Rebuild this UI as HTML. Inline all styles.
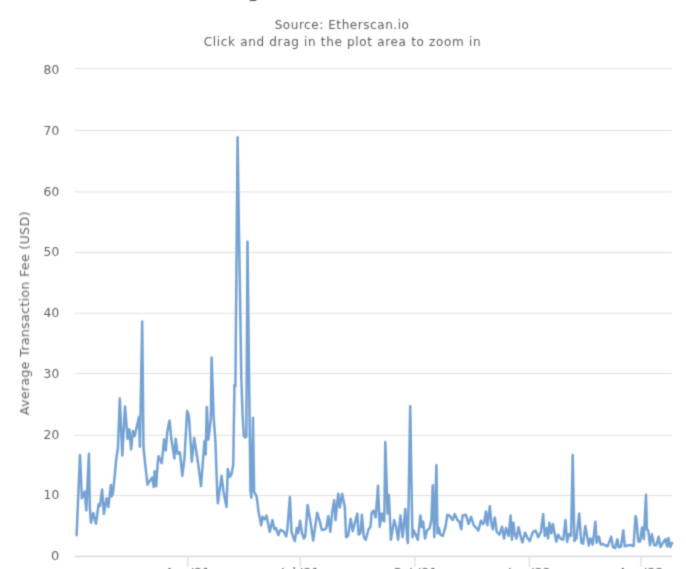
<!DOCTYPE html>
<html><head><meta charset="utf-8"><style>
html,body{margin:0;padding:0;background:#fff;overflow:hidden;}
svg{display:block;}
text{font-family:"DejaVu Sans","Liberation Sans",sans-serif;}
</style></head><body>
<svg width="686" height="569" viewBox="0 0 686 569">
<defs><filter id="bl" x="-5%" y="-5%" width="110%" height="110%"><feConvolveMatrix order="3" kernelMatrix="0.03 0.11 0.03 0.11 0.44 0.11 0.03 0.11 0.03" divisor="1" edgeMode="none" preserveAlpha="false"/></filter></defs>
<rect width="686" height="569" fill="#fff"/>
<g filter="url(#bl)">
<text x="343" y="-3" text-anchor="middle" font-size="20" fill="#333">Average Transaction Fee Chart</text>
<text x="341.8" y="29" text-anchor="middle" font-size="12" textLength="134.3" lengthAdjust="spacing" fill="#606060">Source: Etherscan.io</text>
<text x="342.1" y="46" text-anchor="middle" font-size="12" textLength="276.9" lengthAdjust="spacing" fill="#606060">Click and drag in the plot area to zoom in</text>
<g stroke="#e0e0e0" stroke-width="1" fill="none">
<path d="M74.5 68.56 H672.2" />
<path d="M74.5 130.50 H672.2" />
<path d="M74.5 191.90 H672.2" />
<path d="M74.5 252.40 H672.2" />
<path d="M74.5 313.30 H672.2" />
<path d="M74.5 373.40 H672.2" />
<path d="M74.5 435.30 H672.2" />
<path d="M74.5 495.50 H672.2" />
</g>
<path d="M74.8 556.3 H672" stroke="#c8c8c8" stroke-width="1" fill="none"/>
<g stroke="#dedede" stroke-width="1.2" fill="none">
<path d="M187.8 556.5 V567" />
<path d="M300.2 556.5 V567" />
<path d="M414.9 556.5 V567" />
<path d="M529.3 556.5 V567" />
<path d="M641.0 556.5 V567" />
</g>
<g font-size="13" fill="#606060" text-anchor="end">
<text x="59.2" y="73.93" textLength="15.6" lengthAdjust="spacingAndGlyphs">80</text>
<text x="59.2" y="134.72" textLength="15.6" lengthAdjust="spacingAndGlyphs">70</text>
<text x="59.2" y="195.51" textLength="15.6" lengthAdjust="spacingAndGlyphs">60</text>
<text x="59.2" y="256.30" textLength="15.6" lengthAdjust="spacingAndGlyphs">50</text>
<text x="59.2" y="317.09" textLength="15.6" lengthAdjust="spacingAndGlyphs">40</text>
<text x="59.2" y="377.88" textLength="15.6" lengthAdjust="spacingAndGlyphs">30</text>
<text x="59.2" y="438.67" textLength="15.6" lengthAdjust="spacingAndGlyphs">20</text>
<text x="59.2" y="499.46" textLength="15.6" lengthAdjust="spacingAndGlyphs">10</text>
<text x="59.2" y="560.25">0</text>
</g>
<g font-size="12.5" fill="#606060" text-anchor="middle">
<text x="187.8" y="577">Apr '21</text>
<text x="300.2" y="577">Jul '21</text>
<text x="414.9" y="577">Oct '21</text>
<text x="529.3" y="577">Jan '22</text>
<text x="641.0" y="577">Apr '22</text>
</g>
<text transform="translate(29 313.4) rotate(-90)" text-anchor="middle" font-size="12.5" textLength="203.6" lengthAdjust="spacing" fill="#606060">Average Transaction Fee (USD)</text>
<path d="M76.6 535.1 L80.0 455.0 L81.9 498.2 L84.7 491.5 L86.3 510.5 L88.9 453.7 L89.8 507.0 L91.0 522.8 L93.3 513.1 L96.0 523.7 L98.6 504.3 L100.0 506.0 L102.1 489.4 L103.9 514.0 L106.5 498.2 L108.3 507.0 L110.9 485.0 L111.8 496.4 L113.0 493.0 L115.3 470.0 L116.2 459.1 L117.9 448.5 L119.8 398.5 L122.3 455.6 L125.0 406.4 L127.6 438.9 L129.4 429.2 L131.1 449.4 L132.9 431.0 L134.6 436.2 L139.0 416.9 L139.9 446.7 L142.2 321.4 L143.5 447.5 L145.1 463.3 L147.5 484.7 L149.9 480.7 L152.2 477.5 L153.8 487.0 L154.6 471.2 L156.2 486.2 L157.8 461.7 L158.6 456.2 L161.7 463.3 L164.1 439.6 L165.7 450.6 L167.3 431.6 L169.6 420.6 L171.2 438.0 L174.4 458.5 L175.7 438.8 L177.6 453.8 L179.9 452.2 L182.3 475.9 L184.5 458.0 L187.1 411.1 L188.9 415.8 L191.8 461.7 L194.2 438.0 L198.1 463.3 L201.0 486.2 L204.5 441.1 L205.7 454.6 L206.8 407.1 L208.4 439.6 L210.8 419.0 L211.6 357.6 L213.6 415.8 L215.5 442.7 L217.3 495.3 L217.9 503.3 L221.6 475.7 L223.5 491.7 L226.5 507.0 L227.8 468.9 L229.6 476.9 L231.4 474.4 L233.3 464.6 L233.6 440.0 L234.5 385.0 L235.4 386.0 L237.6 137.2 L238.8 221.0 L240.1 300.0 L241.3 378.0 L242.6 415.0 L243.8 436.0 L245.1 437.5 L246.3 436.5 L247.5 241.8 L250.4 490.0 L251.4 497.8 L253.0 417.7 L254.2 492.0 L255.4 494.1 L256.6 496.4 L258.6 512.2 L261.2 525.3 L262.5 516.8 L264.5 519.4 L266.5 515.5 L269.8 531.9 L272.4 520.1 L274.4 529.3 L276.0 528.0 L278.3 535.2 L280.3 530.0 L283.6 531.3 L286.2 536.5 L287.5 528.0 L289.9 497.0 L291.5 531.9 L292.8 535.9 L294.8 541.1 L296.8 528.0 L298.1 533.2 L300.1 520.7 L302.0 533.2 L304.0 538.5 L305.3 536.0 L307.6 504.9 L310.6 522.7 L313.2 540.5 L317.2 512.8 L319.8 521.4 L321.8 530.0 L325.1 529.3 L326.3 528.0 L328.3 516.1 L330.3 531.9 L332.2 512.2 L334.2 500.3 L335.5 520.1 L338.2 493.7 L339.8 507.5 L342.1 493.7 L344.8 506.9 L346.1 537.2 L348.1 535.9 L350.7 518.7 L352.7 531.3 L355.3 521.4 L357.3 513.5 L358.6 534.6 L360.5 533.0 L361.9 514.8 L363.9 537.2 L365.8 539.8 L368.5 529.3 L370.5 526.7 L371.8 512.2 L373.7 510.8 L375.7 517.4 L378.0 485.8 L379.7 526.7 L381.7 513.5 L383.0 520.1 L384.3 521.4 L385.3 442.1 L387.6 513.5 L388.9 495.0 L390.9 539.8 L394.2 520.1 L396.1 526.7 L398.1 539.8 L400.4 515.5 L402.6 537.2 L405.3 508.9 L407.2 538.5 L407.9 543.1 L410.2 406.3 L411.4 480.0 L412.5 537.2 L413.8 530.6 L415.8 535.0 L417.8 539.8 L420.4 515.5 L421.7 527.0 L423.1 521.4 L425.0 538.5 L427.0 530.6 L429.6 528.0 L431.4 520.1 L432.7 485.2 L434.3 537.2 L436.4 465.3 L437.5 533.2 L438.9 528.0 L440.2 534.6 L442.8 535.9 L445.5 526.7 L447.4 514.8 L449.4 515.5 L452.7 520.1 L454.7 514.1 L457.3 520.1 L459.3 521.4 L461.3 529.3 L462.6 515.5 L465.9 514.8 L468.5 524.0 L471.1 516.8 L473.8 525.3 L475.8 527.3 L478.3 530.6 L480.9 520.7 L482.9 524.0 L484.2 522.7 L485.9 511.5 L487.5 525.3 L489.8 506.2 L491.5 524.0 L492.8 529.3 L494.8 517.4 L496.7 531.9 L499.4 534.6 L502.0 526.7 L504.0 538.5 L506.0 528.0 L508.6 535.9 L510.6 515.5 L511.9 539.8 L513.5 522.7 L514.5 533.2 L516.5 538.5 L518.5 527.3 L520.5 535.9 L522.4 542.5 L525.1 532.6 L527.7 538.5 L529.7 541.1 L533.0 531.9 L535.6 530.6 L538.2 537.2 L540.9 531.9 L543.1 514.1 L544.8 535.9 L546.8 528.0 L548.1 538.5 L549.4 522.7 L551.3 533.2 L552.9 524.0 L554.6 533.2 L556.3 541.8 L558.2 534.6 L560.5 538.5 L563.2 539.8 L565.5 520.1 L567.1 541.8 L569.1 533.9 L571.1 535.9 L572.7 455.0 L574.4 541.1 L576.4 538.5 L579.2 513.5 L581.3 542.8 L583.1 543.7 L585.3 526.1 L587.0 535.5 L588.8 545.4 L590.5 538.4 L592.7 544.5 L595.4 521.7 L596.7 542.8 L598.9 536.6 L600.7 544.5 L602.9 544.0 L604.6 545.0 L607.7 546.3 L611.2 536.6 L613.0 547.2 L615.1 548.1 L617.3 539.3 L618.7 547.2 L621.0 546.5 L623.3 530.5 L624.8 546.3 L627.5 545.4 L630.1 545.0 L632.8 545.9 L633.6 546.0 L635.5 516.2 L636.3 518.0 L638.3 541.6 L640.2 541.6 L642.0 527.4 L643.8 539.1 L646.0 494.8 L646.9 529.3 L648.2 530.5 L650.0 545.3 L651.8 534.2 L654.3 545.3 L656.3 545.3 L658.6 536.7 L660.4 547.1 L662.9 543.0 L665.4 539.1 L667.2 546.5 L668.4 537.9 L670.3 547.1 L672.1 542.8" fill="none" stroke="#74a2d3" stroke-width="2.5" stroke-linejoin="round" stroke-linecap="round"/>
</g>
</svg>
</body></html>
